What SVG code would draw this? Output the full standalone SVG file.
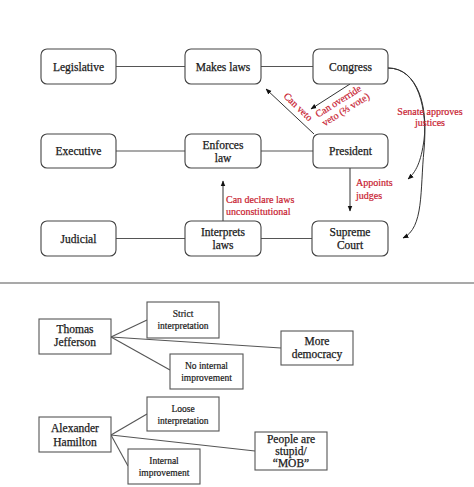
<svg xmlns="http://www.w3.org/2000/svg" width="474" height="487" viewBox="0 0 474 487">
<style>
.rb{fill:#fff;stroke:#444;stroke-width:1.1}
.sb{fill:#fff;stroke:#555;stroke-width:1.1}
.t{font-family:"Liberation Serif","Times New Roman",serif;font-size:11.5px;fill:#1a1a1a;stroke:#1a1a1a;stroke-width:0.25;text-anchor:middle}
.s{font-family:"Liberation Serif","Times New Roman",serif;font-size:9.5px;fill:#1a1a1a;stroke:#1a1a1a;stroke-width:0.2;text-anchor:middle}
.r{font-family:"Liberation Serif","Times New Roman",serif;font-size:10px;fill:#c8202f;stroke:#c8202f;stroke-width:0.2}
.ln{stroke:#555;stroke-width:1.1;fill:none}
.ar{stroke:#333;stroke-width:1;fill:none}
</style>
<defs>
<marker id="ah" viewBox="0 0 10 10" refX="9" refY="5" markerWidth="6" markerHeight="6" orient="auto" markerUnits="userSpaceOnUse">
<path d="M0,1 L10,5 L0,9 z" fill="#111"/>
</marker>
</defs>
<rect width="474" height="487" fill="#fff"/>
<g id="connectors">
<line class="ln" x1="116" y1="66.5" x2="185" y2="66.5"/>
<line class="ln" x1="261" y1="66.5" x2="313" y2="66.5"/>
<line class="ln" x1="116" y1="151" x2="185" y2="151"/>
<line class="ln" x1="261" y1="151" x2="313" y2="151"/>
<line class="ln" x1="116" y1="238.5" x2="185" y2="238.5"/>
<line class="ln" x1="261" y1="238.5" x2="312" y2="238.5"/>
<line class="ar" x1="314" y1="134" x2="266" y2="89" marker-end="url(#ah)"/>
<line class="ar" x1="350" y1="84" x2="311" y2="109" marker-end="url(#ah)"/>
<line class="ar" x1="350" y1="168" x2="350" y2="211" marker-end="url(#ah)"/>
<line class="ar" x1="223" y1="221" x2="223" y2="181" marker-end="url(#ah)"/>
<path class="ar" d="M388,68 C418,68 428,108 424,140 C421,162 416,172 408,179" marker-end="url(#ah)"/>
<path class="ar" d="M388,68 C418,68 428,108 424,150 C420,190 424,228 403,238" marker-end="url(#ah)"/>
<line class="ln" x1="0" y1="283" x2="474" y2="283" stroke="#888" stroke-width="1.6"/>
<line class="ln" x1="111" y1="337" x2="147" y2="320"/>
<line class="ln" x1="111" y1="337" x2="281" y2="348"/>
<line class="ln" x1="111" y1="337" x2="170" y2="370"/>
<line class="ln" x1="111" y1="435" x2="147" y2="414"/>
<line class="ln" x1="111" y1="435" x2="255" y2="451"/>
<line class="ln" x1="111" y1="435" x2="128" y2="466"/>
</g>
<g id="labels">
<text class="r" transform="translate(298,107) rotate(44)" text-anchor="middle" y="3">Can veto</text>
<text class="r" transform="translate(340,104) rotate(-32)" text-anchor="middle"><tspan x="0" y="0">Can override</tspan><tspan x="2" y="11">veto (⅔ vote)</tspan></text>
<text class="r" x="430" y="115" text-anchor="middle" font-size="9.5"><tspan x="430">Senate approves</tspan><tspan x="430" dy="11">justices</tspan></text>
<text class="r" x="356" y="186" font-size="11.5"><tspan x="356">Appoints</tspan><tspan x="356" dy="12.5">judges</tspan></text>
<text class="r" x="226" y="203"><tspan x="226">Can declare laws</tspan><tspan x="226" dy="11.5">unconstitutional</tspan></text>
</g>
<g id="legislative"><rect class="rb" x="41" y="49" width="75" height="35" rx="6"/><text class="t" x="78.5" y="70.5">Legislative</text></g>
<g id="makes-laws"><rect class="rb" x="185" y="49" width="76" height="35" rx="6"/><text class="t" x="223" y="70.5">Makes laws</text></g>
<g id="congress"><rect class="rb" x="313" y="49" width="75" height="35" rx="6"/><text class="t" x="350.5" y="70.5">Congress</text></g>
<g id="executive"><rect class="rb" x="41" y="134" width="75" height="34" rx="6"/><text class="t" x="78.5" y="155">Executive</text></g>
<g id="enforces-law"><rect class="rb" x="185" y="134" width="76" height="34" rx="6"/><text class="t" x="223" y="149">Enforces<tspan x="223" dy="12.5">law</tspan></text></g>
<g id="president"><rect class="rb" x="313" y="134" width="75" height="34" rx="6"/><text class="t" x="350.5" y="155">President</text></g>
<g id="judicial"><rect class="rb" x="41" y="221" width="75" height="35" rx="6"/><text class="t" x="78.5" y="242.5">Judicial</text></g>
<g id="interprets-laws"><rect class="rb" x="185" y="221" width="76" height="35" rx="6"/><text class="t" x="223" y="236">Interprets<tspan x="223" dy="12.5">laws</tspan></text></g>
<g id="supreme-court"><rect class="rb" x="312" y="221" width="76" height="35" rx="6"/><text class="t" x="350" y="236">Supreme<tspan x="350" dy="12.5">Court</tspan></text></g>
<g id="jefferson"><rect class="sb" x="39" y="319" width="72" height="35"/><text class="t" x="75" y="333" font-size="12">Thomas<tspan x="75" dy="13">Jefferson</tspan></text></g>
<g id="strict"><rect class="sb" x="147" y="302" width="72" height="36"/><text class="s" x="183" y="317">Strict<tspan x="183" dy="11.5">interpretation</tspan></text></g>
<g id="no-internal"><rect class="sb" x="170" y="354" width="73" height="35"/><text class="s" x="206.5" y="369">No internal<tspan x="206.5" dy="11.5">improvement</tspan></text></g>
<g id="more-democracy"><rect class="sb" x="281" y="331" width="72" height="34"/><text class="t" x="317" y="345">More<tspan x="317" dy="13">democracy</tspan></text></g>
<g id="hamilton"><rect class="sb" x="39" y="417" width="72" height="35"/><text class="t" x="75" y="432" font-size="12">Alexander<tspan x="75" dy="13.5">Hamilton</tspan></text></g>
<g id="loose"><rect class="sb" x="147" y="397" width="72" height="34"/><text class="s" x="183" y="412">Loose<tspan x="183" dy="11.5">interpretation</tspan></text></g>
<g id="internal"><rect class="sb" x="128" y="449" width="72" height="35"/><text class="s" x="164" y="464">Internal<tspan x="164" dy="11.5">improvement</tspan></text></g>
<g id="mob"><rect class="sb" x="255" y="432" width="72" height="38"/><text class="t" x="291" y="443">People are<tspan x="291" dy="12">stupid/</tspan><tspan x="291" dy="12">“MOB”</tspan></text></g>
</svg>
